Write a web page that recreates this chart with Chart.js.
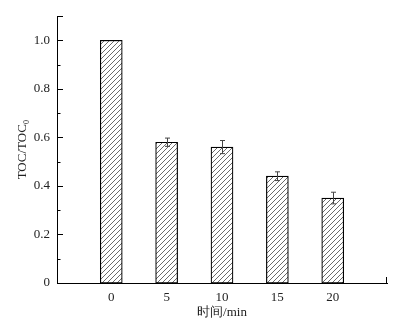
<!DOCTYPE html>
<html>
<head>
<meta charset="utf-8">
<script src="https://cdn.jsdelivr.net/npm/chart.js@4/dist/chart.umd.min.js"></script>
<style>
  html, body { margin: 0; padding: 0; background: #fff; }
  #wrap { width: 408px; height: 331px; }
</style>
</head>
<body>
<div id="wrap"><canvas id="tocChart" width="408" height="331"></canvas></div>
<script>
// reaction time (min) and normalised TOC
const times = [0, 5, 10, 15, 20]
const tocRatio = [1.0, 0.58, 0.56, 0.44, 0.35]
const tocError = [0, 0.017, 0.027, 0.018, 0.024]
const yTicks = [0, 0.1, 0.2, 0.3, 0.4, 0.5, 0.6, 0.7, 0.8, 0.9, 1.0, 1.1]

const serif = '"Liberation Serif", "Times New Roman", serif'

// diagonal "/" hatch
const makeHatch = () => {
  const c = document.createElement('canvas')
  const s = 5
  c.width = s
  c.height = s
  const g = c.getContext('2d')
  g.fillStyle = '#fff'
  g.fillRect(0, 0, s, s)
  g.strokeStyle = '#444'
  g.lineWidth = 0.8
  g.beginPath()
  g.moveTo(0, s); g.lineTo(s, 0)
  g.moveTo(-1, 1); g.lineTo(1, -1)
  g.moveTo(s - 1, s + 1); g.lineTo(s + 1, s - 1)
  g.stroke()
  return g.createPattern(c, 'repeat')
}

// inward ticks on the y axis, end tick on x axis, error bars
const decorations = {
  id: 'decorations',
  afterDatasetsDraw (chart) {
    const { ctx, scales: { x, y } } = chart
    ctx.save()
    ctx.strokeStyle = '#000'
    ctx.lineWidth = 1
    ctx.beginPath()
    yTicks.forEach((v, i) => {
      const py = Math.round(y.getPixelForValue(v)) + 0.5
      const len = (i % 2 === 0 || i === yTicks.length - 1) ? 6 : 3.5
      ctx.moveTo(x.left, py)
      ctx.lineTo(x.left + len, py)
    })
    ctx.moveTo(Math.round(x.right) - 0.5, y.bottom)
    ctx.lineTo(Math.round(x.right) - 0.5, y.bottom - 6)
    ctx.stroke()

    ctx.strokeStyle = '#444'
    ctx.beginPath()
    times.forEach((t, i) => {
      if (!tocError[i]) return
      const px = Math.round(x.getPixelForValue(t)) + 0.5
      const hi = y.getPixelForValue(tocRatio[i] + tocError[i])
      const lo = y.getPixelForValue(tocRatio[i] - tocError[i])
      ctx.moveTo(px, hi); ctx.lineTo(px, lo)
      ctx.moveTo(px - 2.5, hi); ctx.lineTo(px + 2.5, hi)
      ctx.moveTo(px - 2.5, lo); ctx.lineTo(px + 2.5, lo)
    })
    ctx.stroke()
    ctx.restore()
  }
}

new Chart('tocChart', {
  type: 'bar',
  data: {
    datasets: [{
      data: times.map((t, i) => ({ x: t, y: tocRatio[i] })),
      backgroundColor: makeHatch(),
      borderColor: '#000',
      borderWidth: 1.2,
      borderSkipped: false,
      barThickness: 22
    }]
  },
  plugins: [decorations],
  options: {
    responsive: false,
    animation: false,
    layout: { padding: { top: 16, right: 21, left: 0, bottom: 0 } },
    plugins: {
      legend: { display: false },
      tooltip: { enabled: false }
    },
    scales: {
      x: {
        type: 'linear',
        offset: false,
        min: -4.9,
        max: 24.9,
        afterBuildTicks: scale => { scale.ticks = times.map(v => ({ value: v })) },
        afterFit: scale => { scale.height = 48 },
        grid: { display: false, drawTicks: false, offset: false },
        border: { display: true, color: '#000', width: 1 },
        ticks: {
          padding: 7,
          color: '#222',
          font: { family: serif, size: 13 },
          maxRotation: 0,
          callback: v => String(v)
        },
        title: {
          display: true,
          text: '时间/min',
          color: '#222',
          font: { family: serif, size: 13 },
          padding: { top: 0, bottom: 11 }
        }
      },
      y: {
        min: 0,
        max: 1.1,
        afterBuildTicks: scale => { scale.ticks = yTicks.map(v => ({ value: v })) },
        afterFit: scale => { scale.width = 57 },
        grid: { display: false, drawTicks: false },
        border: { display: true, color: '#000', width: 1 },
        ticks: {
          padding: 7,
          color: '#222',
          font: { family: serif, size: 13 },
          callback: v => {
            const n = Math.round(v * 10)
            if (n % 2 !== 0 || n > 10) return ''
            return n === 0 ? '0' : (n / 10).toFixed(1)
          }
        },
        title: {
          display: true,
          text: 'TOC/TOC₀',
          color: '#222',
          font: { family: serif, size: 13 },
          padding: { top: 15, bottom: 0 }
        }
      }
    }
  }
})
</script>
</body>
</html>
